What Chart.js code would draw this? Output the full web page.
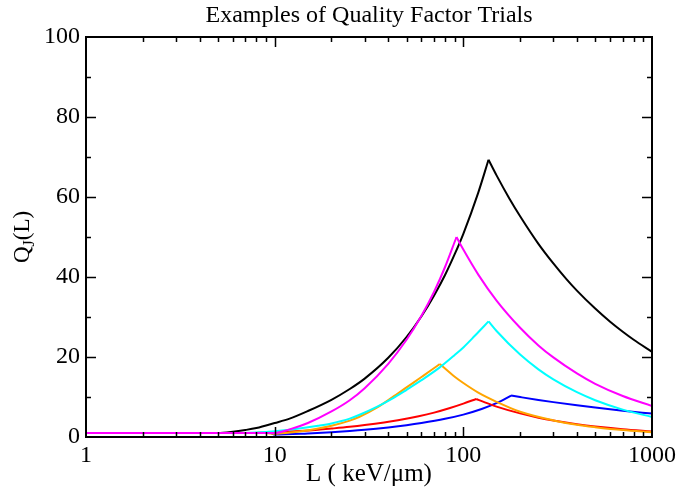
<!DOCTYPE html>
<html><head><meta charset="utf-8">
<script src="https://cdn.jsdelivr.net/npm/chart.js@4.4.1/dist/chart.umd.min.js"></script>
<style>html,body{margin:0;padding:0;background:#fff;}#wrap{width:680px;height:492px;}</style>
</head><body><div id="wrap"><canvas id="c" width="680" height="492"></canvas></div>
<script>
const titleText = 'Examples of Quality Factor Trials';
const xTitle = 'L ( keV/\u03bcm)';
const xTickValues = [1, 10, 100, 1000];
const yTickValues = [0, 20, 40, 60, 80, 100];

const blackL = [1, 5, 6, 7, 8, 10, 12, 15, 20, 25, 30, 40, 50, 60, 70, 80, 90, 100, 120, 136, 150, 175, 200, 250, 300, 350, 400, 500, 600, 700, 800, 1000];
const blackQ = [1, 1, 1.3, 1.75, 2.25, 3.5, 4.6, 6.5, 9.3, 12.0, 14.6, 19.8, 25.0, 30.2, 35.4, 40.5, 45.7, 50.8, 61.1, 69.3, 65.4, 59.7, 55.2, 48.3, 43.4, 39.6, 36.6, 32.1, 28.8, 26.3, 24.3, 21.3];

const magentaL = [1, 10, 12, 15, 20, 25, 30, 40, 50, 60, 70, 80, 92, 100, 120, 150, 200, 250, 300, 400, 500, 700, 1000];
const magentaQ = [1, 1, 1.9, 3.5, 6.4, 9.2, 12.2, 18.3, 24.3, 30.3, 36.3, 42.5, 50, 46.85, 40.6, 34.1, 27.3, 22.9, 19.9, 15.9, 13.3, 10.25, 7.75];

const cyanL = [1, 6, 8, 10, 13.5, 17, 20, 25, 28, 35, 42, 50, 60, 75, 90, 100, 115, 136, 150, 200, 250, 300, 400, 500, 700, 1000];
const cyanQ = [1, 1, 1.15, 1.45, 2.1, 2.8, 3.4, 4.6, 5.5, 7.6, 9.6, 11.8, 14.2, 17.4, 20.5, 22.4, 25.3, 28.9, 26.5, 20.6, 16.9, 14.4, 11.2, 9.2, 6.85, 5.0];

const orangeL = [1, 9, 10, 12, 13.5, 17, 20, 25, 28, 35, 42, 50, 60, 68, 75, 90, 100, 120, 150, 200, 300, 400, 500, 700, 1000];
const orangeQ = [1, 1, 0.8, 1.1, 1.35, 2.1, 2.8, 4.1, 5.0, 7.4, 9.9, 12.4, 15.0, 16.8, 18.25, 15.07, 13.5, 11.1, 8.8, 6.3, 4.15, 3.05, 2.45, 1.72, 1.2];

const redL = [1, 7, 10, 13.5, 17, 20, 25, 30, 45, 58, 70, 85, 100, 117, 130, 150, 200, 250, 300, 400, 500, 700, 1000];
const redQ = [1, 1, 1.25, 1.5, 1.8, 2.1, 2.55, 3.0, 4.2, 5.2, 6.1, 7.25, 8.35, 9.5, 8.65, 7.6, 5.9, 4.83, 4.1, 3.18, 2.6, 1.93, 1.4];

const blueL = [1, 9.5, 10, 15, 20, 25, 30, 40, 50, 60, 80, 100, 125, 154, 179, 200, 250, 300, 400, 500, 700, 1000];
const blueQ = [1, 1, 0.62, 0.9, 1.2, 1.5, 1.8, 2.4, 2.95, 3.5, 4.55, 5.6, 7.0, 8.7, 10.35, 9.98, 9.26, 8.72, 7.92, 7.36, 6.58, 5.85];

function pts(L, Q) { return L.map((v, i) => ({ x: v, y: Q[i] })); }
// each curve is drawn as a rising and a falling branch that share the peak point,
// so the smoothing keeps the sharp peak
function branches(L, Q, color, order) {
  const all = pts(L, Q);
  const k = Q.indexOf(Math.max(...Q));
  const base = { borderColor: color, backgroundColor: color, borderWidth: 2,
    pointRadius: 0, cubicInterpolationMode: 'monotone', fill: false, order: order };
  return [
    Object.assign({}, base, { data: all.slice(0, k + 1) }),
    Object.assign({}, base, { data: all.slice(k) })
  ];
}

const FONT = '"Liberation Serif", "Times New Roman", serif';

const decor = {
  id: 'decor',
  afterDraw(chart) {
    const { ctx, chartArea: a, scales: { x, y } } = chart;
    ctx.save();
    ctx.strokeStyle = '#000';
    ctx.lineWidth = 2;
    ctx.strokeRect(a.left, a.top, a.right - a.left, a.bottom - a.top);
    ctx.lineWidth = 1.5;
    ctx.beginPath();
    for (let d = 1; d < 1000; d *= 10) {
      for (let m = 1; m < 10; m++) {
        const v = d * m;
        if (v <= 1 || v >= 1000) continue;
        const len = m === 1 ? 10 : 5;
        const px = Math.round(x.getPixelForValue(v)) + 0.5;
        ctx.moveTo(px, a.bottom); ctx.lineTo(px, a.bottom - len);
        ctx.moveTo(px, a.top); ctx.lineTo(px, a.top + len);
      }
    }
    for (let v = 10; v < 100; v += 10) {
      const len = v % 20 === 0 ? 10 : 5;
      const py = Math.round(y.getPixelForValue(v)) + 0.5;
      ctx.moveTo(a.left, py); ctx.lineTo(a.left + len, py);
      ctx.moveTo(a.right, py); ctx.lineTo(a.right - len, py);
    }
    ctx.stroke();

    ctx.fillStyle = '#000';
    ctx.textAlign = 'center';
    ctx.textBaseline = 'alphabetic';
    ctx.font = '24px ' + FONT;
    ctx.fillText(titleText, (a.left + a.right) / 2, 22);
    ctx.font = '25px ' + FONT;
    ctx.fillText(xTitle, (a.left + a.right) / 2, 481);

    // y-axis title with subscript
    ctx.translate(22, (a.top + a.bottom) / 2);
    ctx.rotate(-Math.PI / 2);
    ctx.textAlign = 'left';
    ctx.font = '23px ' + FONT;
    const wQ = ctx.measureText('Q').width;
    const wP = ctx.measureText('(L)').width;
    ctx.font = '16px ' + FONT;
    const wJ = ctx.measureText('J').width;
    let sx = -(wQ + wJ + wP) / 2;
    const baseY = 7;
    ctx.font = '23px ' + FONT;
    ctx.fillText('Q', sx, baseY); sx += wQ;
    ctx.font = '16px ' + FONT;
    ctx.fillText('J', sx, baseY + 5); sx += wJ;
    ctx.font = '23px ' + FONT;
    ctx.fillText('(L)', sx, baseY);
    ctx.restore();
  }
};

new Chart(document.getElementById('c'), {
  type: 'line',
  data: {
    datasets: [].concat(
      branches(magentaL, magentaQ, '#ff00ff', 0),
      branches(blackL, blackQ, '#000000', 1),
      branches(cyanL, cyanQ, '#00ffff', 2),
      branches(orangeL, orangeQ, '#ffa500', 3),
      branches(redL, redQ, '#ff0000', 4),
      branches(blueL, blueQ, '#0000ff', 5)
    )
  },
  options: {
    responsive: false,
    animation: false,
    devicePixelRatio: 1,
    layout: { padding: { left: 0, right: 26, top: 37, bottom: 0 } },
    plugins: { legend: { display: false }, title: { display: false }, tooltip: { enabled: false } },
    scales: {
      x: {
        type: 'logarithmic', min: 1, max: 1000,
        grid: { display: false, drawTicks: false },
        border: { display: false },
        afterBuildTicks: (s) => { s.ticks = xTickValues.map(v => ({ value: v })); },
        afterFit: (s) => { s.height = 55; },
        ticks: { color: '#000', font: { family: FONT, size: 24 }, padding: 4, maxRotation: 0, autoSkip: false,
          callback: (v) => String(v) }
      },
      y: {
        type: 'linear', min: 0, max: 100,
        grid: { display: false, drawTicks: false },
        border: { display: false },
        afterBuildTicks: (s) => { s.ticks = yTickValues.map(v => ({ value: v })); },
        afterFit: (s) => { s.width = 86; },
        ticks: { color: '#000', font: { family: FONT, size: 24 }, padding: 6 }
      }
    }
  },
  plugins: [decor]
});
</script>
</body></html>
